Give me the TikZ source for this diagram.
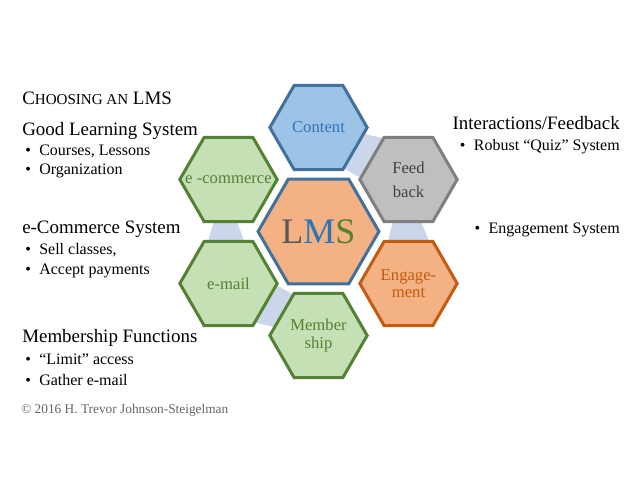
\documentclass[tikz,border=0pt]{standalone}
\usepackage{fontspec}
\setmainfont{Liberation Serif}
\usetikzlibrary{shapes.geometric,calc,backgrounds}

\definecolor{lmsline}{RGB}{65,113,156}
\definecolor{lmsfill}{RGB}{244,177,131}
\definecolor{lmsgray}{RGB}{89,89,89}
\definecolor{lmsblue}{RGB}{46,117,182}
\definecolor{lmsgreen}{RGB}{84,130,53}
\definecolor{cntfill}{RGB}{157,195,230}
\definecolor{fbline}{RGB}{127,127,127}
\definecolor{fbfill}{RGB}{191,191,191}
\definecolor{fbtext}{RGB}{64,64,64}
\definecolor{engline}{RGB}{197,90,17}
\definecolor{grnfill}{RGB}{197,224,180}
\definecolor{linkblue}{RGB}{203,214,234}
\definecolor{copygray}{RGB}{100,100,100}

\newcommand\bul{\makebox[10.5pt][l]{\textbullet}}

\begin{document}
\begin{tikzpicture}[x=0.75pt,y=0.75pt,yscale=-1,xscale=1,
  hexa/.style={regular polygon,regular polygon sides=6,inner sep=0pt,line width=2.25pt,minimum size=73pt,align=center,font=\fontsize{12.5}{15}\selectfont},
  grnhex/.style={hexa,draw=lmsgreen,fill=grnfill,text=lmsgreen},
  link/.style={fill=linkblue},
  head/.style={anchor=base west,inner sep=0pt,font=\fontsize{14.2}{17}\selectfont},
  item/.style={anchor=base west,inner sep=0pt,font=\fontsize{12}{14}\selectfont}]
\useasboundingbox (0,0) rectangle (638,493);

%Shape: Hexagon
\node[hexa,minimum size=88pt,draw=lmsline,fill=lmsfill,font=\fontsize{27}{30}\selectfont] (lms) at (318.5,231.5) {\textcolor{lmsgray}{L}\textcolor{lmsblue}{M}\textcolor{lmsgreen}{S}};
%Shape: Hexagon
\node[hexa,draw=lmsline,fill=cntfill,text=lmsblue] (content) at (318.5,127.5) {Content};
%Shape: Hexagon
\node[hexa,draw=fbline,fill=fbfill,text=fbtext] (feed) at (408.5,179.5) {Feed\\[3pt]back};
%Shape: Hexagon
\node[hexa,draw=engline,fill=lmsfill,text=engline] (engage) at (408.5,283.5) {Engage-\\[-2pt]ment};
%Shape: Hexagon
\node[grnhex] (member) at (318.5,335.5) {Member\\[-2pt]ship};
%Shape: Hexagon
\node[grnhex] (email) at (228.5,283.5) {e-mail};
%Shape: Hexagon (text wider than the shape)
\node[grnhex] (ecom) at (228.5,179.5) {\makebox[0pt]{e -commerce}};

%Links behind the hexagons
\begin{scope}[on background layer]
\fill[link] ($(content.0)!0.15!(content.300)$) -- ($(content.0)!0.95!(content.300)$) -- ($(feed.120)!0.95!(feed.180)$) -- ($(feed.120)!0.05!(feed.180)$) -- cycle;
\fill[link] ($(feed.240)!0.18!(feed.300)$) -- ($(feed.240)!0.76!(feed.300)$) -- ($(engage.120)!0.9!(engage.60)$) -- ($(engage.120)!0.1!(engage.60)$) -- cycle;
\fill[link] ($(email.0)!0.05!(email.300)$) -- ($(email.0)!0.9!(email.300)$) -- ($(member.120)!0.8!(member.180)$) -- ($(member.120)!0.05!(member.180)$) -- cycle;
\fill[link] ($(ecom.240)!0.2!(ecom.300)$) -- ($(ecom.240)!0.68!(ecom.300)$) -- ($(email.120)!0.8!(email.60)$) -- ($(email.120)!0.1!(email.60)$) -- cycle;
\end{scope}

% Text Node
\node[head] (choose) at (22,104) {C{\fontsize{11.3}{13}\selectfont HOOSING AN} LMS};
% Text Node
\node[head] (gls) at (22,135) {Good Learning System};
\node[item] (gls1) at (25,155) {\bul Courses, Lessons};
\node[item] (gls2) at (25,174) {\bul Organization};
% Text Node
\node[head] (ecs) at (22,233) {e-Commerce System};
\node[item] (ecs1) at (25,254) {\bul Sell classes,};
\node[item] (ecs2) at (25,274) {\bul Accept payments};
% Text Node
\node[head] (mbf) at (22,342) {Membership Functions};
\node[item] (mbf1) at (25,364) {\bul “Limit” access};
\node[item] (mbf2) at (25,385) {\bul Gather e-mail};
% Text Node
\node[head,anchor=base east] (ifb) at (620,129) {Interactions/Feedback};
\node[item,anchor=base east] (ifb1) at (620,150) {\bul Robust “Quiz” System};
\node[item,anchor=base east] (eng1) at (620,233) {\bul Engagement System};
% Text Node
\node[anchor=base west,inner sep=0pt,font=\fontsize{10}{12}\selectfont,text=copygray] (copy) at (21,413) {© 2016 H. Trevor Johnson-Steigelman};

\end{tikzpicture}
\end{document}
